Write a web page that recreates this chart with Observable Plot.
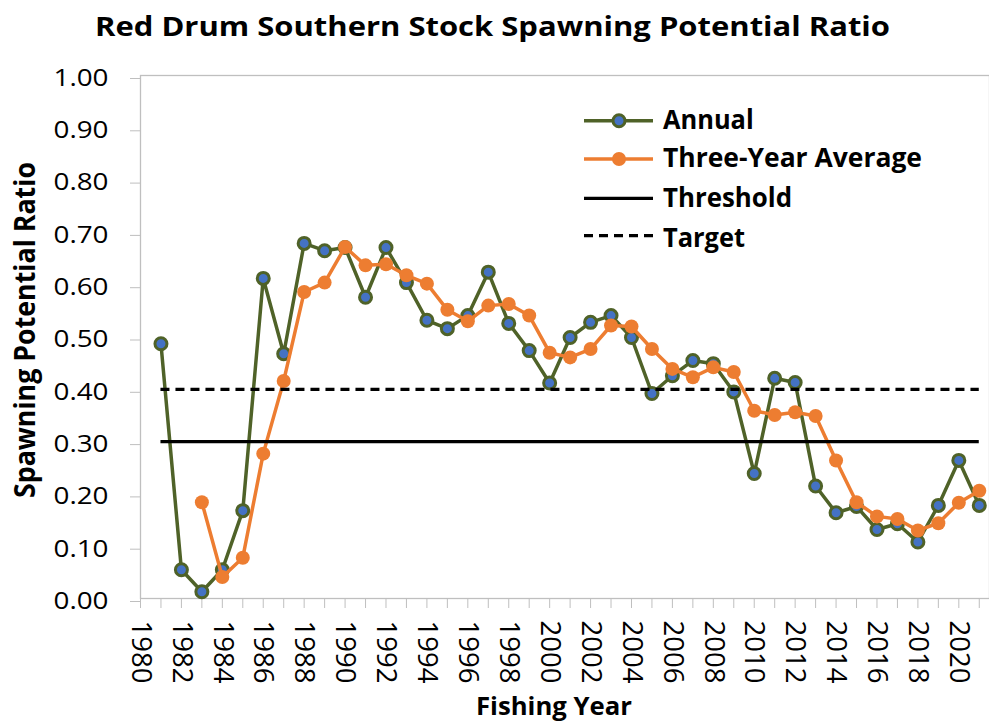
<!DOCTYPE html>
<html>
<head>
<meta charset="utf-8">
<script src="https://cdn.jsdelivr.net/npm/d3@7"></script>
<script src="https://cdn.jsdelivr.net/npm/@observablehq/plot@0.6"></script>
<style>
  html, body { margin: 0; padding: 0; background: white; }
  #chart svg { display: block; }
</style>
</head>
<body>
<div id="chart"></div>
<script>
// ---- Data ----
const annualYears = d3.range(1981, 2022);
const annualValues = [0.487, 0.055, 0.013, 0.055, 0.168, 0.612, 0.468, 0.679, 0.665, 0.671,
  0.576, 0.671, 0.604, 0.532, 0.516, 0.541, 0.624, 0.526, 0.474, 0.412,
  0.499, 0.528, 0.541, 0.499, 0.392, 0.426, 0.455, 0.449, 0.395, 0.239,
  0.421, 0.413, 0.215, 0.164, 0.176, 0.132, 0.143, 0.108, 0.178, 0.264, 0.178];
const avgYears = d3.range(1983, 2022);
const avgValues = [0.184, 0.041, 0.078, 0.277, 0.416, 0.586, 0.604, 0.672, 0.637, 0.639,
  0.618, 0.602, 0.552, 0.530, 0.560, 0.563, 0.541, 0.470, 0.461, 0.477,
  0.522, 0.520, 0.477, 0.439, 0.423, 0.442, 0.433, 0.359, 0.351, 0.356,
  0.349, 0.264, 0.184, 0.157, 0.152, 0.130, 0.144, 0.183, 0.206];
const thresholdValue = 0.30;
const targetValue = 0.40;
const refStart = 1981, refEnd = 2021;
const xTickYears = d3.range(1980, 2022);
const xLabelYears = d3.range(1980, 2021, 2);
const yTicks = [0, 0.1, 0.2, 0.3, 0.4, 0.5, 0.6, 0.7, 0.8, 0.9, 1.0];

const titleText = "Red Drum Southern Stock Spawning Potential Ratio";
const xTitle = "Fishing Year";
const yTitle = "Spawning Potential Ratio";
const legendLabels = ["Annual", "Three-Year Average", "Threshold", "Target"];

const annual = annualYears.map((y, i) => ({year: y, value: annualValues[i]}));
const avg = avgYears.map((y, i) => ({year: y, value: avgValues[i]}));

const GREEN = "#4f6228", BLUE = "#4472c4", ORANGE = "#ed7d31", GREY = "#bfbfbf";
const FONT = "'Open Sans', sans-serif";

const chart = Plot.plot({
  width: 989, height: 723,
  marginLeft: 140, marginRight: 0, marginTop: 75, marginBottom: 125,
  style: {fontFamily: FONT, background: "white", color: "black"},
  x: {domain: [1980, 2021.5]},
  y: {domain: [0, 1]},
  marks: [
    Plot.frame({stroke: GREY, strokeWidth: 1.3}),
    Plot.axisY({ticks: yTicks, tickFormat: d3.format(".2f"), tickSize: 10, tickPadding: 22,
      fontSize: 23, stroke: GREY, label: null, dy: 3}),
    Plot.axisX({ticks: xTickYears, tickFormat: () => "", tickSize: 10, stroke: GREY, label: null}),
    Plot.text(xLabelYears, {x: d => d, text: d => String(d), frameAnchor: "bottom", dy: 22,
      rotate: 90, textAnchor: "start", lineAnchor: "middle", fontSize: 27.5, fill: "black"}),
    Plot.line(annual, {x: "year", y: "value", stroke: GREEN, strokeWidth: 3.5}),
    Plot.dot(annual, {x: "year", y: "value", r: 6, fill: BLUE, stroke: GREEN, strokeWidth: 3}),
    Plot.line(avg, {x: "year", y: "value", stroke: ORANGE, strokeWidth: 3.5}),
    Plot.dot(avg, {x: "year", y: "value", r: 7, fill: ORANGE, stroke: "none"}),
    Plot.ruleY([thresholdValue], {x1: refStart, x2: refEnd, stroke: "black", strokeWidth: 3.2}),
    Plot.ruleY([targetValue], {x1: refStart, x2: refEnd, stroke: "black", strokeWidth: 3.2, strokeDasharray: "9,6"})
  ]
});

document.getElementById("chart").appendChild(chart);

const svg = d3.select(chart);

// stretch y tick labels to match reference widths
svg.selectAll('g[aria-label="y-axis tick label"] text')
  .attr("textLength", 55).attr("lengthAdjust", "spacingAndGlyphs");

function addText(txt, x, y, size, len, anchor, rotate) {
  const t = svg.append("text")
    .attr("font-family", FONT).attr("font-weight", "bold")
    .attr("font-size", size).attr("fill", "black")
    .attr("text-anchor", anchor)
    .attr("textLength", len).attr("lengthAdjust", "spacingAndGlyphs")
    .text(txt);
  if (rotate) t.attr("transform", `translate(${x},${y}) rotate(${rotate})`);
  else t.attr("x", x).attr("y", y);
  return t;
}

// Title and axis titles
addText(titleText, 492.5, 36, 26.5, 795, "middle");
addText(xTitle, 554, 715, 25, 156, "middle");
addText(yTitle, 35, 330, 28, 336, "middle", -90);

// Legend
const lg = svg.append("g");
const lx1 = 584, lx2 = 653, mx = 619, tx = 663;
const rows = [120.7, 159, 198.3, 235.7];
const base = [129.3, 167.3, 206.7, 246.7];
const lens = [90.7, 259, 129, 82];
lg.append("line").attr("x1", lx1).attr("x2", lx2).attr("y1", rows[0]).attr("y2", rows[0])
  .attr("stroke", GREEN).attr("stroke-width", 3.5);
lg.append("circle").attr("cx", mx).attr("cy", rows[0]).attr("r", 6)
  .attr("fill", BLUE).attr("stroke", GREEN).attr("stroke-width", 3);
lg.append("line").attr("x1", lx1).attr("x2", lx2).attr("y1", rows[1]).attr("y2", rows[1])
  .attr("stroke", ORANGE).attr("stroke-width", 3.5);
lg.append("circle").attr("cx", mx).attr("cy", rows[1]).attr("r", 7).attr("fill", ORANGE);
lg.append("line").attr("x1", lx1).attr("x2", lx2).attr("y1", rows[2]).attr("y2", rows[2])
  .attr("stroke", "black").attr("stroke-width", 3.2);
lg.append("line").attr("x1", lx1).attr("x2", lx2).attr("y1", rows[3]).attr("y2", rows[3])
  .attr("stroke", "black").attr("stroke-width", 3.2).attr("stroke-dasharray", "9,6");
legendLabels.forEach((l, i) => addText(l, tx, base[i], 26, lens[i], "start"));
</script>
</body>
</html>
